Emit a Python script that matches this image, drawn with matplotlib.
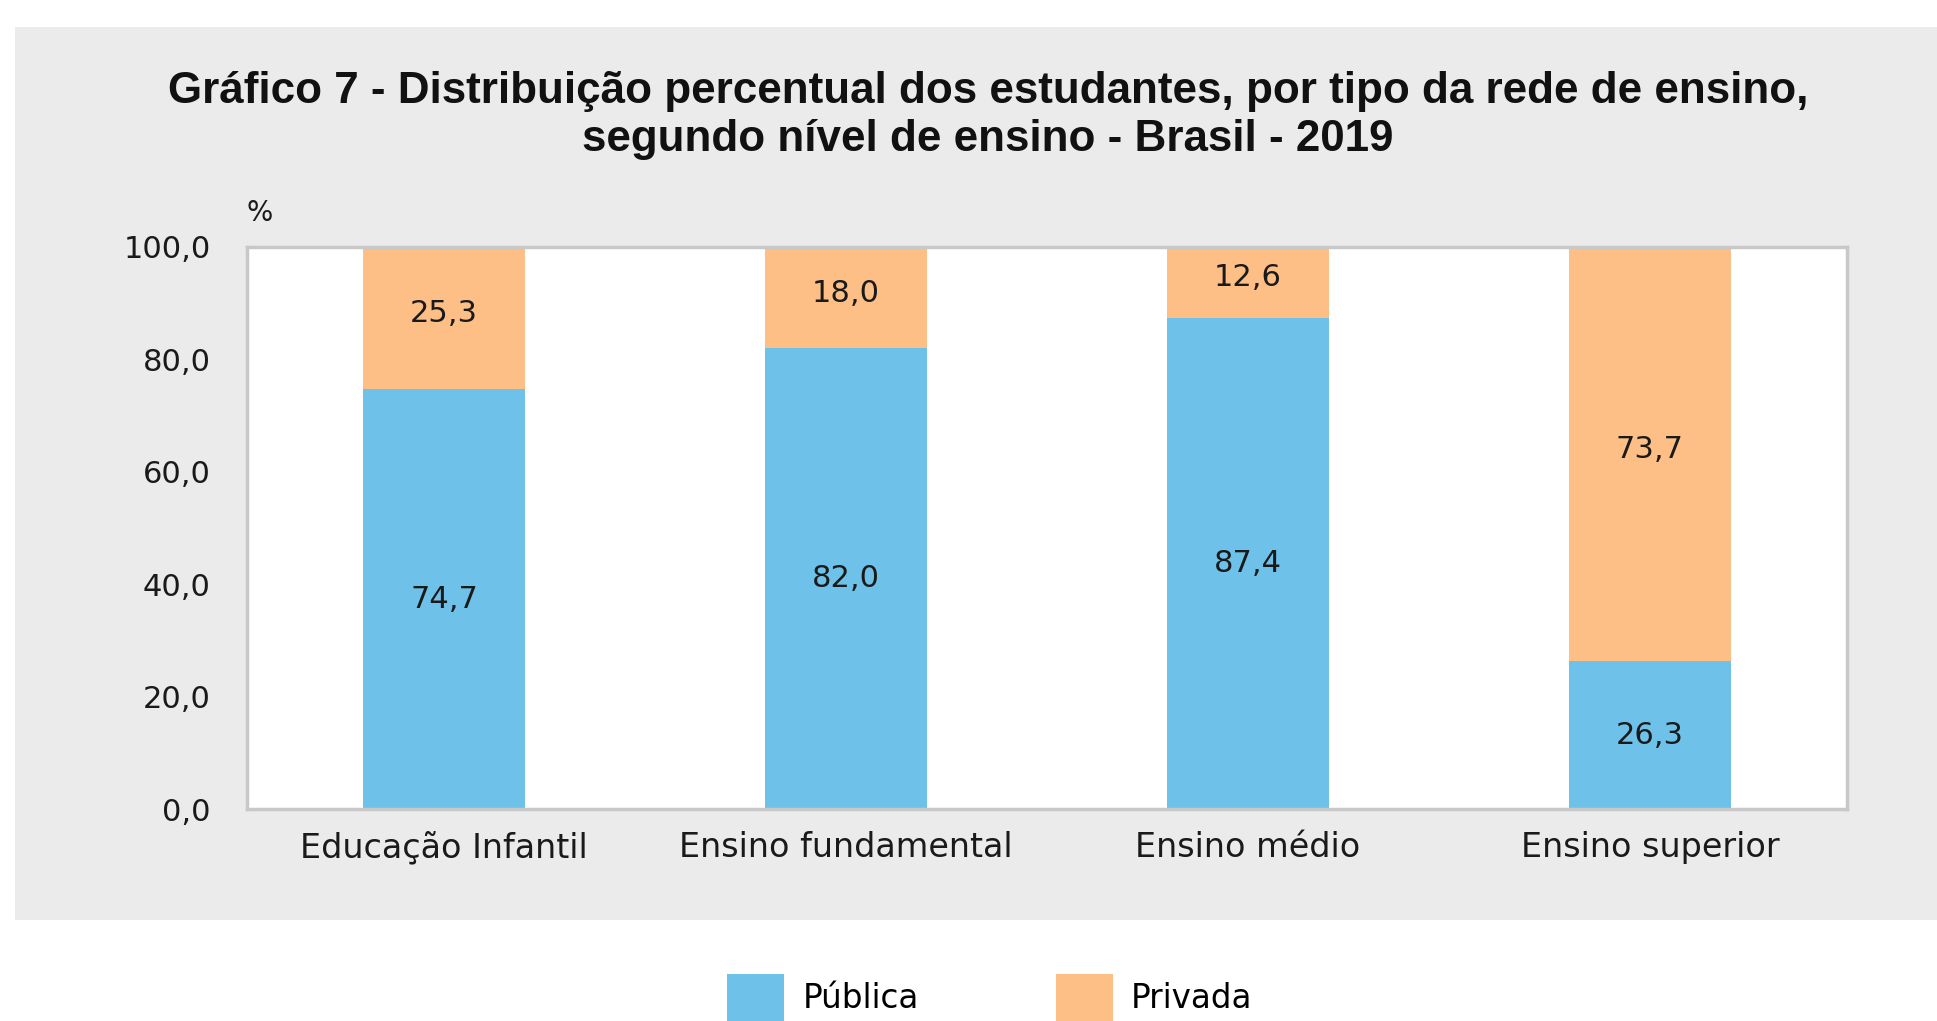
import matplotlib
matplotlib.use('Agg')
import matplotlib.pyplot as plt
from matplotlib.patches import Rectangle
import numpy as np

niveis = ['Educação Infantil', 'Ensino fundamental', 'Ensino médio', 'Ensino superior']
publica = [74.7, 82.0, 87.4, 26.3]
privada = [25.3, 18.0, 12.6, 73.7]
yticks = [0, 20, 40, 60, 80, 100]

cor_publica = '#6EC2EA'
cor_privada = '#FDBF86'

plt.rcParams['font.family'] = ['DejaVu Sans']

fig = plt.figure(figsize=(19.37, 10.21), dpi=100, facecolor='white')

# painel cinza de fundo
fig.patches.append(Rectangle((0.0077, 0.099), 1.0, 0.8746, transform=fig.transFigure,
                             facecolor='#EBEBEB', edgecolor='none', zorder=-1))

ax = fig.add_axes([0.1275, 0.2076, 0.826, 0.5505])
ax.set_zorder(2)
ax.set_facecolor('white')

x = np.arange(len(niveis))
largura = 0.405
b1 = ax.bar(x, publica, largura, color=cor_publica, label='Pública')
b2 = ax.bar(x, privada, largura, bottom=publica, color=cor_privada, label='Privada')

for i in range(len(niveis)):
    ax.text(x[i], publica[i] / 2, f'{publica[i]:.1f}'.replace('.', ','),
            ha='center', va='center', fontsize=22, color='#1a1a1a')
    ax.text(x[i], publica[i] + privada[i] / 2 + 0.8, f'{privada[i]:.1f}'.replace('.', ','),
            ha='center', va='center', fontsize=22, color='#1a1a1a')

ax.set_xlim(-0.49, 3.49)
ax.set_ylim(0, 100)
ax.set_yticks(yticks)
ax.set_yticklabels([f'{v:.1f}'.replace('.', ',') for v in yticks])
ax.set_xticks(x)
ax.set_xticklabels(niveis)
ax.tick_params(axis='both', length=0, colors='#1a1a1a')
ax.tick_params(axis='y', pad=26, labelsize=22)
ax.tick_params(axis='x', pad=16, labelsize=24)
for s in ax.spines.values():
    s.set_color('#C8C8C8')
    s.set_linewidth(2.5)

ax.text(0.0, 1.035, '%', transform=ax.transAxes, fontsize=20, color='#1a1a1a',
        ha='left', va='bottom')

fig.text(0.51, 0.887, 'Gráfico 7 - Distribuição percentual dos estudantes, por tipo da rede de ensino,\n'
         'segundo nível de ensino - Brasil - 2019',
         ha='center', va='center', fontsize=31.7, fontweight='bold',
         family='Liberation Sans', linespacing=1.2, color='#111111')

fig.legend(handles=[b1, b2], loc='center', bbox_to_anchor=(0.511, 0.023), ncol=2,
           frameon=False, fontsize=23.5, handlelength=1.75, handleheight=1.8,
           handletextpad=0.55, columnspacing=4.2)

fig.savefig('out.png', dpi=100, facecolor='white')
